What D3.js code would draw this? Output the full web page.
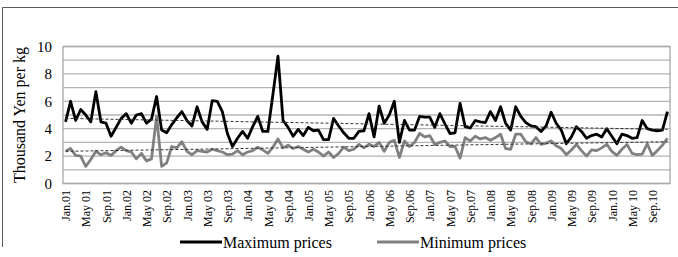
<!DOCTYPE html>
<html>
<head>
<meta charset="utf-8">
<script src="https://cdn.jsdelivr.net/npm/d3@7"></script>
<style>
  body { margin: 0; background: #fff; }
  svg, svg text { font-family: "Liberation Serif", "Times New Roman", serif; }
</style>
</head>
<body>
<div id="chart"></div>
<script>
// Monthly prices, Jan 2001 - Dec 2010 (thousand yen per kg)
var years = ["01", "02", "03", "04", "05", "06", "07", "08", "09", "10"];
var monthNames = ["Jan", "Feb", "Mar", "Apr", "May", "Jun", "Jul", "Aug", "Sep", "Oct", "Nov", "Dec"];
var categories = years.flatMap(function (y) { return monthNames.map(function (m) { return m + " " + y; }); });

// one label every 4 months
var tickLabels = [
    "Jan.01", "May 01", "Sep.01", "Jan.02", "May 02", "Sep.02", "Jan.03", "May 03", "Sep.03", "Jan.04",
    "May 04", "Sep.04", "Jan.05", "May 05", "Sep.05", "Jan.06", "May 06", "Sep.06", "Jan.07", "May 07",
    "Sep.07", "Jan.08", "May 08", "Sep.08", "Jan.09", "May 09", "Sep.09", "Jan.10", "May 10", "Sep.10"
];

var maxPrices = [
    4.5, 6.0, 4.6, 5.4, 5.0, 4.5, 6.7, 4.5, 4.4, 3.45, 4.1, 4.75,
    5.1, 4.4, 5.0, 5.1, 4.4, 4.7, 6.35, 3.9, 3.7, 4.3, 4.8, 5.25,
    4.6, 4.2, 5.6, 4.5, 3.95, 6.05, 6.0, 5.25, 3.65, 2.7, 3.3, 3.8,
    3.3, 4.15, 4.9, 3.8, 3.8, 6.5, 9.3, 4.6, 4.1, 3.45, 3.95, 3.5,
    4.1, 3.85, 3.9, 3.2, 3.2, 4.75, 4.2, 3.7, 3.3, 3.3, 3.8, 3.85,
    5.1, 3.4, 5.65, 4.4, 5.0, 6.0, 3.0, 4.6, 3.9, 3.9, 4.9, 4.85,
    4.85, 4.1, 5.1, 4.35, 3.65, 3.7, 5.85, 4.15, 4.05, 4.6, 4.5, 4.45,
    5.25, 4.6, 5.6, 4.4, 3.9, 5.6, 4.9, 4.45, 4.2, 4.15, 3.8, 4.2,
    5.2, 4.4, 3.9, 2.9, 3.4, 4.15, 3.8, 3.3, 3.5, 3.6, 3.4, 4.0,
    3.45, 2.9, 3.6, 3.5, 3.3, 3.35, 4.6, 4.0, 3.9, 3.85, 3.9, 5.25
];

var minPrices = [
    2.35, 2.55, 2.05, 2.0, 1.25, 1.75, 2.35, 2.1, 2.25, 2.05, 2.4, 2.65,
    2.4, 2.3, 1.8, 2.2, 1.65, 1.8, 4.9, 1.25, 1.5, 2.7, 2.6, 3.05,
    2.35, 2.1, 2.4, 2.35, 2.3, 2.5, 2.4, 2.3, 2.1, 2.15, 2.4, 2.1,
    2.3, 2.4, 2.65, 2.45, 2.2, 2.65, 3.25, 2.6, 2.8, 2.55, 2.7, 2.5,
    2.3, 2.5, 2.3, 2.0, 2.3, 1.9, 2.2, 2.65, 2.4, 2.5, 2.85, 2.6,
    2.87, 2.7, 3.0, 2.35, 3.0, 3.15, 1.9, 3.1, 2.7, 3.0, 3.65, 3.4,
    3.5, 2.85, 3.0, 3.1, 2.7, 2.7, 1.85, 3.35, 3.1, 3.45, 3.25, 3.35,
    3.15, 3.35, 3.6, 2.55, 2.5, 3.6, 3.6, 3.05, 2.9, 3.35, 2.85, 2.95,
    3.1, 2.75, 2.55, 2.1, 2.45, 2.85, 2.4, 2.0, 2.45, 2.4, 2.6, 2.85,
    2.35, 2.05, 2.5, 2.85, 2.2, 2.1, 2.15, 2.9, 2.05, 2.4, 2.8, 3.3
];

// linear trend end values (first month, last month)
var maxTrend = [4.75, 3.95];
var minTrend = [2.35, 3.05];

var yTicks = [0, 2, 4, 6, 8, 10];

var W = 678, H = 257;
var margin = { top: 46.5, right: 8, bottom: 73.5, left: 63 };
var width = W - margin.left - margin.right,
    height = H - margin.top - margin.bottom;

var svg = d3.select("#chart").append("svg")
    .attr("width", W)
    .attr("height", H);

// chart frame (top and left edges are inside the picture)
svg.append("path")
    .attr("d", "M2.5,247V7.5H678")
    .attr("fill", "none")
    .attr("stroke", "#5a5a5a")
    .attr("stroke-width", 1);

var g = svg.append("g")
    .attr("transform", "translate(" + margin.left + "," + margin.top + ")");

// Scales
var x = d3.scalePoint()
    .domain(categories)
    .range([0, width])
    .padding(0.5);

var y = d3.scaleLinear()
    .domain([0, 10])
    .range([height, 0]);

// gridlines every 1
g.append("g").selectAll("line")
    .data(y.ticks(10))
    .enter().append("line")
    .attr("x1", 0).attr("x2", width)
    .attr("y1", function (d) { return y(d); })
    .attr("y2", function (d) { return y(d); })
    .attr("stroke", "#b4b4b4")
    .attr("stroke-width", 1.3);

// plot area border
g.append("rect")
    .attr("width", width).attr("height", height)
    .attr("fill", "none")
    .attr("stroke", "#a8a8a8")
    .attr("stroke-width", 1.3);

// Axes
var yAxis = d3.axisLeft(y).tickValues(yTicks).tickSize(0).tickPadding(11);
g.append("g").call(yAxis)
    .attr("font-family", null)
    .call(function (a) { a.select(".domain").remove(); })
    .selectAll("text")
    .style("font-family", "'Liberation Serif', serif")
    .style("font-size", "15px")
    .attr("fill", "#000");

var tickCats = categories.filter(function (d, i) { return i % 4 === 0; });
var xAxis = d3.axisBottom(x)
    .tickValues(tickCats)
    .tickFormat(function (d, i) { return tickLabels[i]; })
    .tickSize(0);

g.append("g")
    .attr("transform", "translate(0," + height + ")")
    .call(xAxis)
    .attr("font-family", null)
    .call(function (a) { a.select(".domain").remove(); })
    .selectAll("text")
    .style("font-family", "'Liberation Serif', serif")
    .style("font-size", "12px")
    .attr("fill", "#000")
    .attr("transform", "rotate(-90)")
    .attr("text-anchor", "end")
    .attr("x", -6.5)
    .attr("y", 0)
    .attr("dy", "0.35em");

// y-axis title
svg.append("text")
    .attr("transform", "translate(25," + (margin.top + height / 2) + ") rotate(-90)")
    .attr("text-anchor", "middle")
    .style("font-size", "16px")
    .text("Thousand Yen per kg");

// Lines
var line = d3.line()
    .x(function (d, i) { return x(categories[i]); })
    .y(function (d) { return y(d); });

g.append("path")
    .datum(maxPrices)
    .attr("fill", "none")
    .attr("stroke", "#000")
    .attr("stroke-width", 2.8)
    .attr("stroke-linejoin", "round")
    .attr("d", line);

g.append("path")
    .datum(minPrices)
    .attr("fill", "none")
    .attr("stroke", "#808080")
    .attr("stroke-width", 2.8)
    .attr("stroke-linejoin", "round")
    .attr("d", line);

// trend lines
var last = categories[categories.length - 1];
[maxTrend, minTrend].forEach(function (t) {
    g.append("line")
        .attr("x1", x(categories[0])).attr("y1", y(t[0]))
        .attr("x2", x(last)).attr("y2", y(t[1]))
        .attr("stroke", "#333")
        .attr("stroke-width", 1)
        .attr("stroke-dasharray", "3,2");
});

// Legend
var legend = svg.append("g");
var items = [
    { label: "Maximum prices", color: "#000", x: 180 },
    { label: "Minimum prices", color: "#808080", x: 377 }
];
items.forEach(function (d) {
    legend.append("line")
        .attr("x1", d.x).attr("x2", d.x + 42)
        .attr("y1", 242).attr("y2", 242)
        .attr("stroke", d.color)
        .attr("stroke-width", 2.8);
    legend.append("text")
        .attr("x", d.x + 43).attr("y", 242)
        .attr("dy", "0.35em")
        .style("font-size", "16px")
        .text(d.label);
});
</script>
</body>
</html>
